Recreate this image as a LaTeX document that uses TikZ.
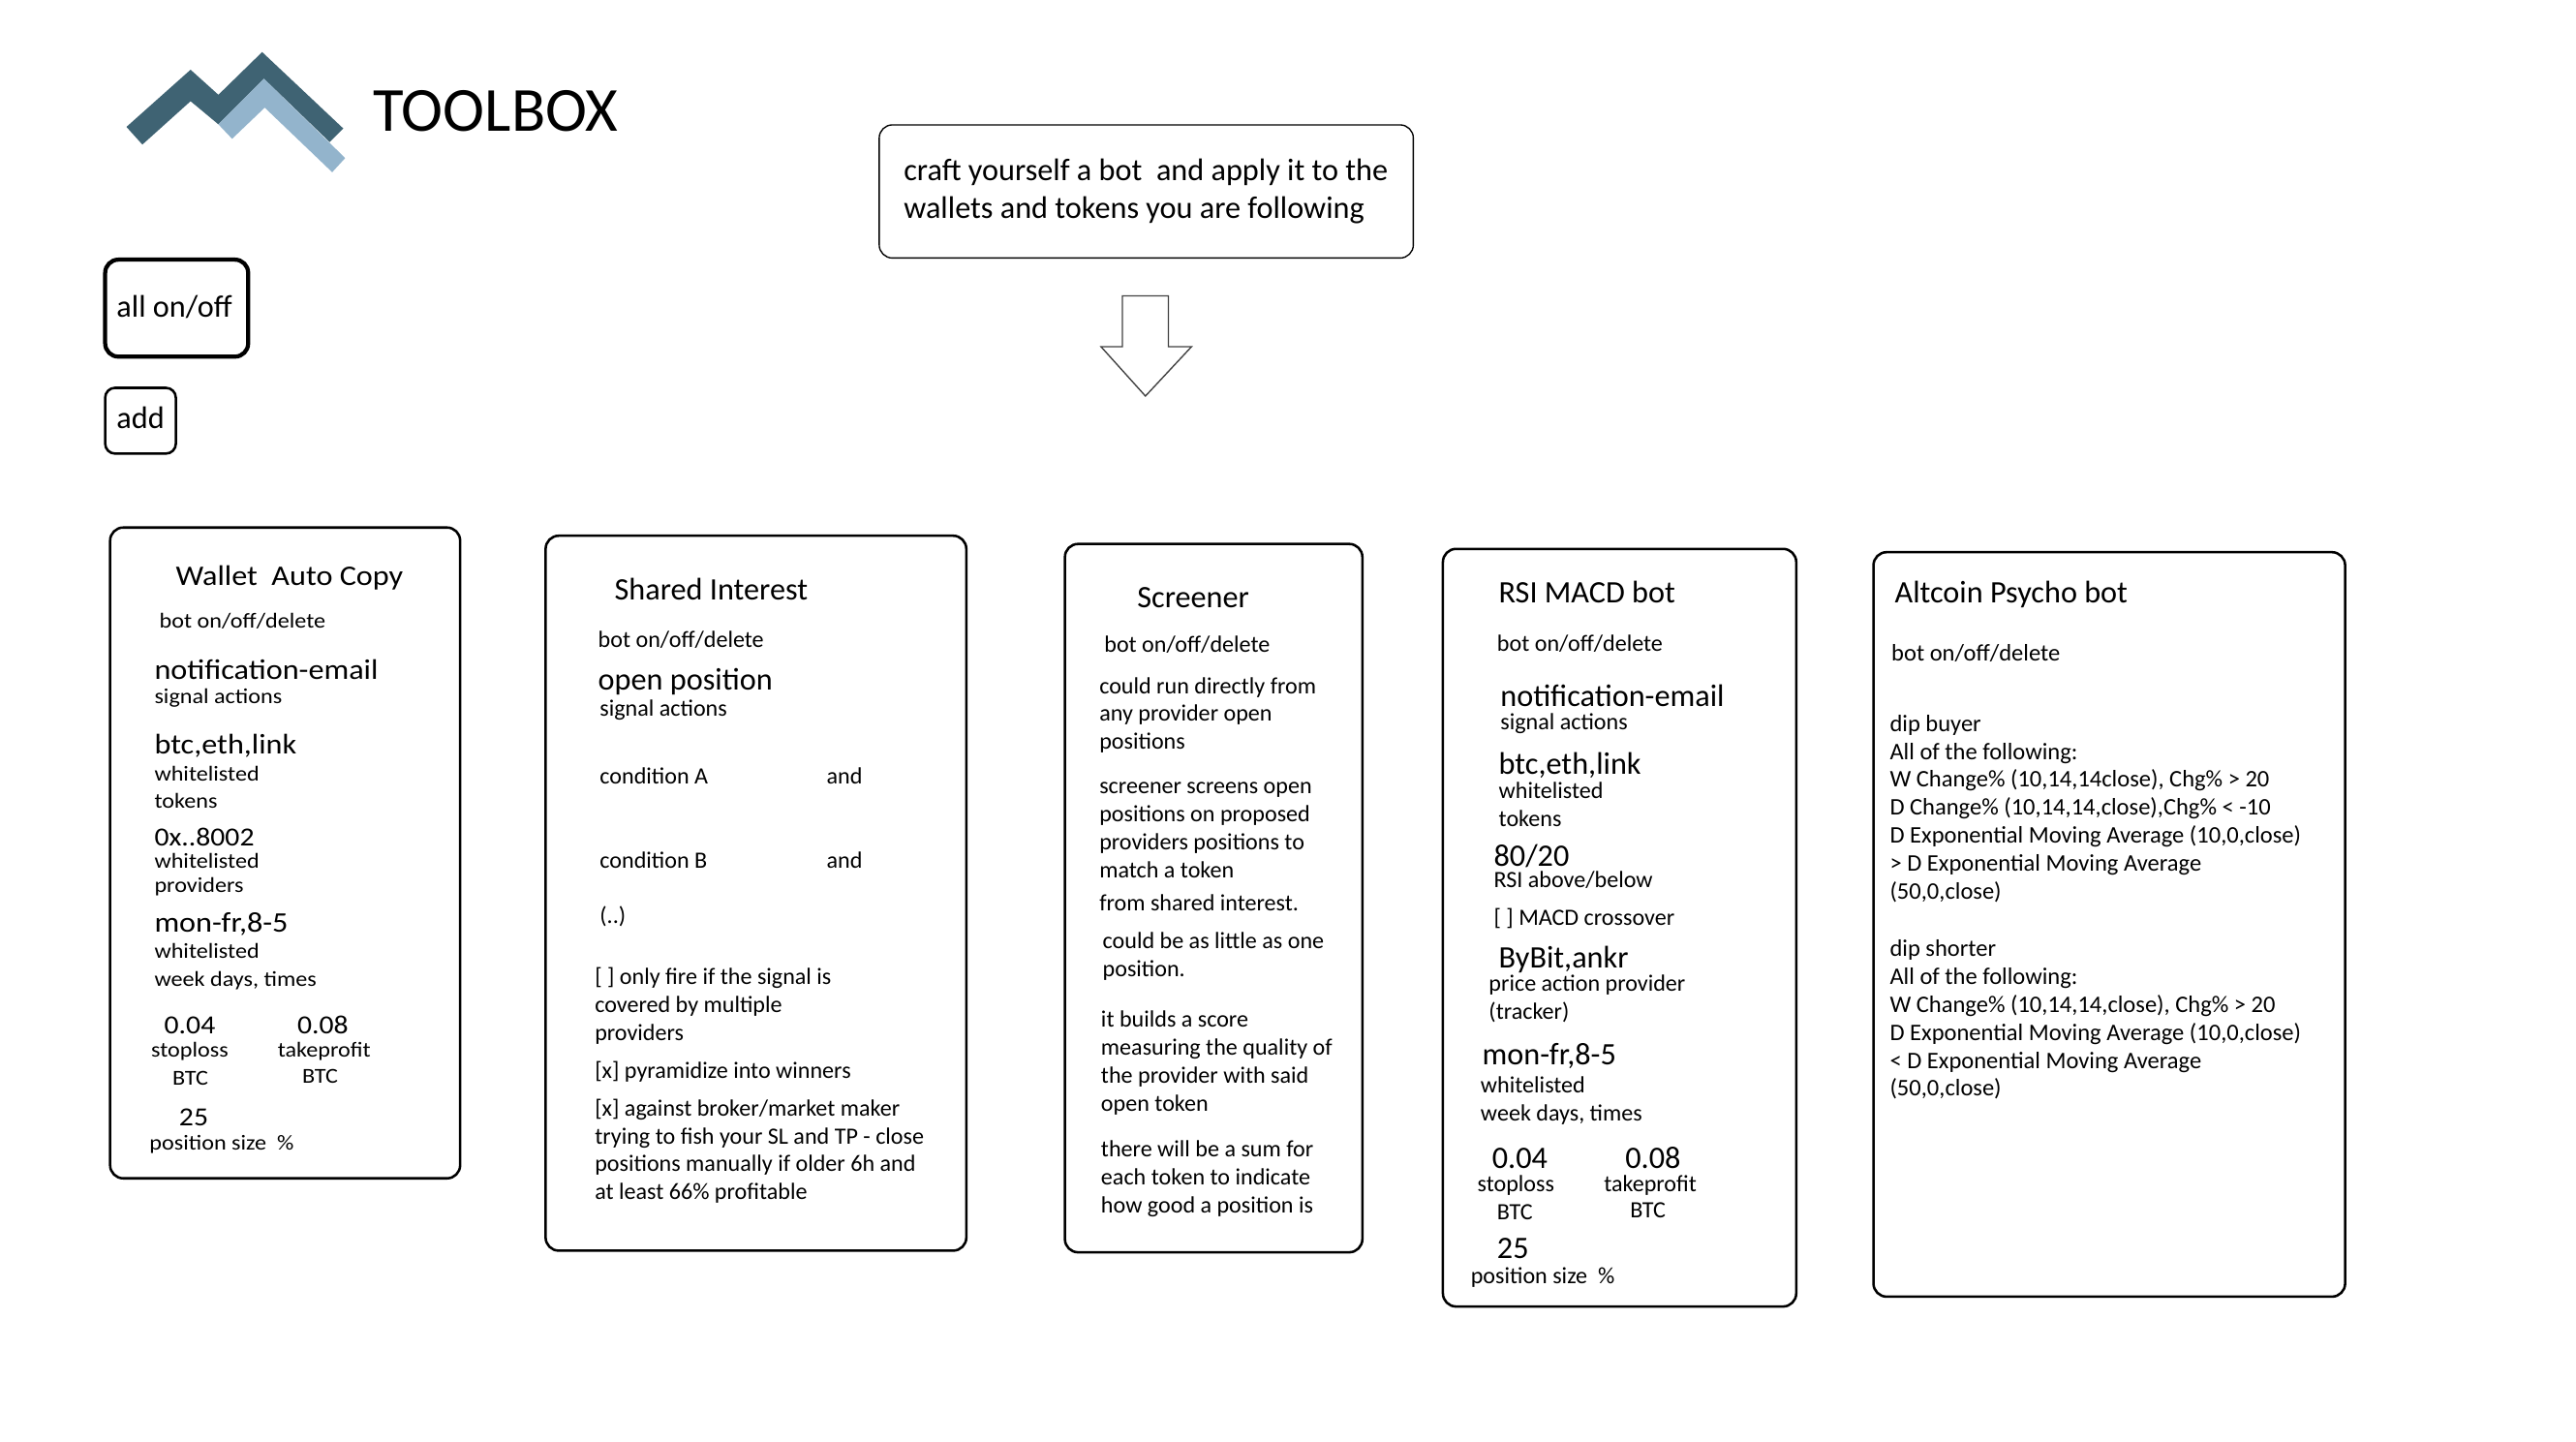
\documentclass[tikz,border=0pt]{standalone}
\usepackage{fontspec}
\setmainfont{Carlito}
\newfontfamily\widefont[FakeStretch=1.1]{Carlito}
\newcommand{\tl}[5]{\node (#1) [#2] at (#3,#4) {#5};}
\tikzset{
  tx/.style={anchor=base west,inner sep=0pt,outer sep=0pt,text=black},
  sm/.style={tx,font=\fontsize{14.2}{16}\selectfont},
  as/.style={tx,font=\fontsize{14.45}{16}\selectfont},
  md/.style={tx,font=\fontsize{19}{22}\selectfont},
  lg/.style={tx,font=\fontsize{19}{22}\selectfont},
  wsm/.style={tx,font=\widefont\fontsize{12.95}{16}\selectfont},
  wnum/.style={tx,font=\widefont\fontsize{15.9}{20}\selectfont},
  wlg/.style={tx,font=\widefont\fontsize{17.25}{20}\selectfont},
  panel/.style={draw=black,line width=1.5pt,rounded corners=8pt,fill=white},
}
\definecolor{logodark}{HTML}{3F6373}
\definecolor{logolight}{HTML}{93B4CC}
\begin{document}
\begin{tikzpicture}[x=1pt,y=-1pt]
\useasboundingbox (0,0) rectangle (1567.5,876.9);
\begin{scope}[shift={(52.8pt,-17.6pt)},x=0.2256pt,y=-0.1955pt]
  \fill[logodark] (107,305) -- (280,127) -- (355,205) -- (473,72) -- (692,310) -- (655,352) -- (478,155) -- (355,297) -- (280,225) -- (150,360) -- cycle;
  \fill[logolight] (355,297) -- (478,155) -- (697,402) -- (662,446) -- (480,245) -- (392,342) -- cycle;
\end{scope}
\tl{title}{tx,font=\fontsize{38.2}{40}\selectfont}{227}{80}{TOOLBOX}
% top buttons
\draw[draw=black,line width=2.5pt,rounded corners=8pt] (64,158) rectangle (151,217);
\tl{allbtn}{md}{71}{193}{all on/off}
\draw[draw=black,line width=1.5pt,rounded corners=6pt] (64,236) rectangle (107,276);
\tl{addbtn}{md}{71}{261}{add}
\draw[draw=black,line width=0.8pt,rounded corners=8pt] (535,76) rectangle (860,157);
\tl{note1}{md}{550}{110}{craft yourself a bot\ \ and apply it to the}
\tl{note2}{md}{550}{133}{wallets and tokens you are following}
\draw[draw=black!75,line width=0.8pt] (683,180) -- (711,180) -- (711,211) -- (725,211) -- (697,241) -- (670,211) -- (683,211) -- cycle;
% panels
\draw[panel] (67,321) rectangle (280,717);
\draw[panel] (332,326) rectangle (588,761);
\draw[panel] (648,331) rectangle (829,762);
\draw[panel] (878,334) rectangle (1093,795);
\draw[panel] (1140,336) rectangle (1427,789);
% wallet
\tl{wa}{wlg}{107}{356}{Wallet\ \ Auto Copy}
\tl{wb}{wsm}{97}{382}{bot on/off/delete}
\tl{wc}{wlg}{94}{413.5}{notification-email}
\tl{wd}{wsm}{94}{428}{signal actions}
\tl{we}{wlg}{94}{459}{btc,eth,link}
\tl{wf}{wsm}{94}{475}{whitelisted}
\tl{wg}{wsm}{94}{492}{tokens}
\tl{wh}{wnum}{94}{515}{0x..8002}
\tl{wi}{wsm}{94}{528}{whitelisted}
\tl{wj}{wsm}{94}{543}{providers}
\tl{wk}{wlg}{94}{567}{mon-fr,8-5}
\tl{wl}{wsm}{94}{583}{whitelisted}
\tl{wm}{wsm}{94}{600}{week days, times}
\tl{wn}{wnum}{100}{629}{0.04}
\tl{wo}{wsm}{92}{643}{stoploss}
\tl{wp}{wsm}{105}{660}{BTC}
\tl{wq}{wnum}{181}{629}{0.08}
\tl{wr}{wsm}{169}{643}{takeprofit}
\tl{ws}{wsm}{184}{659}{BTC}
\tl{wt}{wnum}{109}{685}{25}
\tl{wu}{wsm}{91}{700}{position size\ \ \%}
% shared
\tl{sa}{lg}{374}{365}{Shared Interest}
\tl{sb}{sm}{364}{394}{bot on/off/delete}
\tl{sc}{lg}{364}{420}{open position}
\tl{sd}{sm}{365}{436}{signal actions}
\tl{se}{sm}{365}{477}{condition A}
\tl{sf}{sm}{503}{477}{and}
\tl{sg}{sm}{365}{528}{condition B}
\tl{sh}{sm}{503}{528}{and}
\tl{si}{sm}{365}{562}{(..)}
\tl{sj}{sm}{362}{599}{[ ] only fire if the signal is}
\tl{sk}{sm}{362}{616}{covered by multiple}
\tl{sl}{sm}{362}{633}{providers}
\tl{sm1}{sm}{362}{656}{[x] pyramidize into winners}
\tl{sn}{sm}{362}{679}{[x] against broker/market maker}
\tl{so}{sm}{362}{696}{trying to fish your SL and TP - close}
\tl{sp}{sm}{362}{713}{positions manually if older 6h and}
\tl{sq}{sm}{362}{730}{at least 66\% profitable}
% screener
\tl{ca}{lg}{692}{370}{Screener}
\tl{cb}{sm}{672}{397}{bot on/off/delete}
\tl{cc}{sm}{669}{422}{could run directly from}
\tl{cd}{sm}{669}{439}{any provider open}
\tl{ce}{sm}{669}{456}{positions}
\tl{cf}{sm}{669}{483}{screener screens open}
\tl{cg}{sm}{669}{500}{positions on proposed}
\tl{ch}{sm}{669}{517}{providers positions to}
\tl{ci}{sm}{669}{534}{match a token}
\tl{cj}{sm}{669}{554}{from shared interest.}
\tl{ck}{sm}{671}{577}{could be as little as one}
\tl{cl}{sm}{671}{594}{position.}
\tl{cm}{sm}{670}{625}{it builds a score}
\tl{cn}{sm}{670}{642}{measuring the quality of}
\tl{co}{sm}{670}{659}{the provider with said}
\tl{cp}{sm}{670}{676}{open token}
\tl{cq}{sm}{670}{704}{there will be a sum for}
\tl{cr}{sm}{670}{721}{each token to indicate}
\tl{cs}{sm}{670}{738}{how good a position is}
% rsi
\tl{ra}{lg}{912}{367}{RSI MACD bot}
\tl{rb}{sm}{911}{396}{bot on/off/delete}
\tl{rc}{lg}{913}{430}{notification-email}
\tl{rd}{sm}{913}{444}{signal actions}
\tl{re}{lg}{912}{471}{btc,eth,link}
\tl{rf}{sm}{912}{486}{whitelisted}
\tl{rg}{sm}{912}{503}{tokens}
\tl{rh}{lg}{909}{527}{80/20}
\tl{ri}{sm}{909}{540}{RSI above/below}
\tl{rj}{sm}{909}{563}{[ ] MACD crossover}
\tl{rk}{lg}{912}{589}{ByBit,ankr}
\tl{rl}{sm}{906}{603}{price action provider}
\tl{rm}{sm}{906}{620}{(tracker)}
\tl{rn}{lg}{902}{648}{mon-fr,8-5}
\tl{ro}{sm}{901}{665}{whitelisted}
\tl{rp}{sm}{901}{682}{week days, times}
\tl{rq}{lg}{908}{711}{0.04}
\tl{rr}{sm}{899}{725}{stoploss}
\tl{rs}{sm}{911}{742}{BTC}
\tl{rt}{lg}{989}{711}{0.08}
\tl{ru}{sm}{976}{725}{takeprofit}
\tl{rv}{sm}{992}{741}{BTC}
\tl{rw}{lg}{911}{766}{25}
\tl{rx}{sm}{895}{781}{position size\ \ \%}
% altcoin
\tl{aa}{lg}{1153}{367}{Altcoin Psycho bot}
\tl{ab}{as}{1151}{402}{bot on/off/delete}
\tl{ac}{as}{1150}{445}{dip buyer}
\tl{ad}{as}{1150}{462}{All of the following:}
\tl{ae}{as}{1150}{479}{W Change\% (10,14,14close), Chg\% > 20}
\tl{af}{as}{1150}{496}{D Change\% (10,14,14,close),Chg\% < -10}
\tl{ag}{as}{1150}{513}{D Exponential Moving Average (10,0,close)}
\tl{ah}{as}{1150}{530}{> D Exponential Moving Average}
\tl{ai}{as}{1150}{547}{(50,0,close)}
\tl{aj}{as}{1150}{582}{dip shorter}
\tl{ak}{as}{1150}{599}{All of the following:}
\tl{al}{as}{1150}{616}{W Change\% (10,14,14,close), Chg\% > 20}
\tl{am}{as}{1150}{633}{D Exponential Moving Average (10,0,close)}
\tl{an}{as}{1150}{650}{< D Exponential Moving Average}
\tl{ao}{as}{1150}{667}{(50,0,close)}
\end{tikzpicture}
\end{document}
